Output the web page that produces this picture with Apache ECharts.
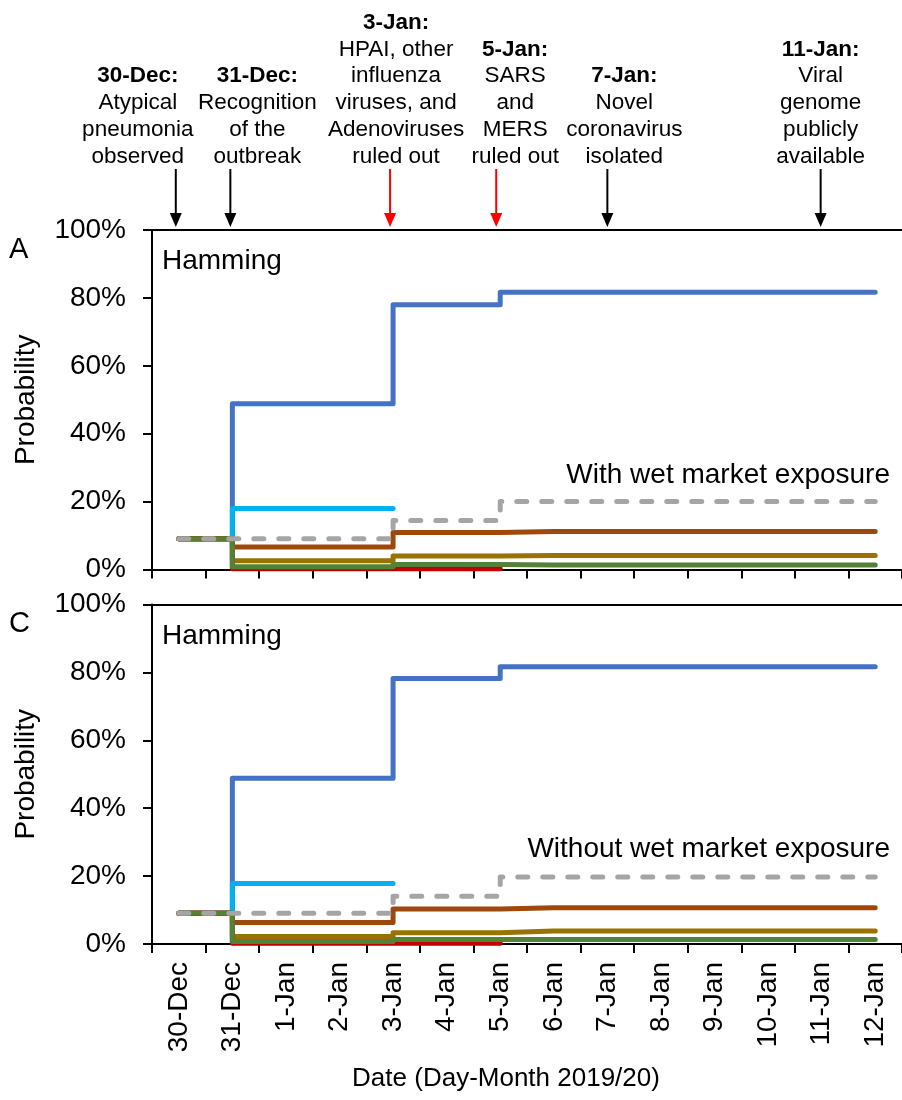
<!DOCTYPE html>
<html>
<head>
<meta charset="utf-8">
<script src="https://cdn.jsdelivr.net/npm/echarts@6.0.0/dist/echarts.min.js"></script>
<style>
html,body{margin:0;padding:0;background:#fff;}
#chart{width:902px;height:1100px;}
</style>
</head>
<body>
<div id="chart"></div>
<script>
// ---------- data ----------
const dates = ['30-Dec','31-Dec','1-Jan','2-Jan','3-Jan','4-Jan','5-Jan','6-Jan','7-Jan','8-Jan','9-Jan','10-Jan','11-Jan','12-Jan'];
const yTicks = [0, 20, 40, 60, 80, 100];

// Panel A (with wet market exposure)
const blueA  = [9.09, 48.8, 48.8, 48.8, 78.0, 78.0, 81.7, 81.7, 81.7, 81.7, 81.7, 81.7, 81.7, 81.7];
const cyanA  = [9.09, 18.0, 18.0, 18.0, 18.0];
const grayA  = [9.09, 9.09, 9.09, 9.09, 14.4, 14.4, 20.0, 20.0, 20.0, 20.0, 20.0, 20.0, 20.0, 20.0];
const brownA = [9.09, 6.6, 6.6, 6.6, 10.9, 10.9, 11.2, 11.2, 11.2, 11.2, 11.2, 11.2, 11.2, 11.2];
const oliveA = [9.09, 2.6, 2.6, 2.6, 4.0, 4.0, 4.1, 4.1, 4.1, 4.1, 4.1, 4.1, 4.1, 4.1];
const greenA = [9.09, 0.8, 0.8, 0.8, 1.5, 1.5, 1.3, 1.3, 1.3, 1.3, 1.3, 1.3, 1.3, 1.3];
const redA   = [9.09, 0.2, 0.2, 0.2, 0.2, 0.2, 0.2];

// Panel C (without wet market exposure)
const blueC  = [9.09, 48.8, 48.8, 48.8, 78.2, 78.2, 81.7, 81.7, 81.7, 81.7, 81.7, 81.7, 81.7, 81.7];
const cyanC  = [9.09, 17.8, 17.8, 17.8, 17.8];
const grayC  = [9.09, 9.09, 9.09, 9.09, 14.1, 14.1, 19.7, 19.7, 19.7, 19.7, 19.7, 19.7, 19.7, 19.7];
const brownC = [9.09, 6.3, 6.3, 6.3, 10.3, 10.3, 10.7, 10.7, 10.7, 10.7, 10.7, 10.7, 10.7, 10.7];
const oliveC = [9.09, 2.2, 2.2, 2.2, 3.3, 3.3, 3.8, 3.8, 3.8, 3.8, 3.8, 3.8, 3.8, 3.8];
const greenC = [9.09, 0.7, 0.7, 0.7, 1.3, 1.3, 1.3, 1.3, 1.3, 1.3, 1.3, 1.3, 1.3, 1.3];
const redC   = [9.09, 0.2, 0.2, 0.2, 0.2, 0.2, 0.2];

// Timeline events
const eventDates  = ['30-Dec', '31-Dec', '3-Jan', '5-Jan', '7-Jan', '11-Jan'];
const eventTitles = ['30-Dec:', '31-Dec:', '3-Jan:', '5-Jan:', '7-Jan:', '11-Jan:'];
const eventLines  = [
  ['Atypical', 'pneumonia', 'observed'],
  ['Recognition', 'of the', 'outbreak'],
  ['HPAI, other', 'influenza', 'viruses, and', 'Adenoviruses', 'ruled out'],
  ['SARS', 'and', 'MERS', 'ruled out'],
  ['Novel', 'coronavirus', 'isolated'],
  ['Viral', 'genome', 'publicly', 'available']
];
const eventColors = ['#000000', '#000000', '#ff0000', '#ff0000', '#000000', '#000000'];
const eventTextShift = [-41, 25, 3, 15, 17, -1];
const eventArrowShift = [-3, -2, -3, -4, 0, -1];

const panelLetters = ['A', 'C'];
const panelMethod = ['Hamming', 'Hamming'];
const panelNotes = ['With wet market exposure', 'Without wet market exposure'];

// ---------- styling ----------
const FONT = 'Liberation Sans, Arial, Helvetica, sans-serif';
const COLORS = {
  blue: '#4472C4', cyan: '#00B0F0', gray: '#A5A5A5',
  brown: '#9E480E', olive: '#997300', green: '#548235', red: '#C00000'
};
const GRID_LEFT = 152, GRID_W = 752, GRID_H = 339.5;
const GRID_TOPS = [230, 604.5];

const chart = echarts.init(document.getElementById('chart'), null, {renderer: 'canvas'});

function xAxes(gi, showLabels) {
  return [
    {
      type: 'category', data: dates, gridIndex: gi, position: 'bottom', boundaryGap: true,
      axisLine: {show: true, lineStyle: {color: '#000', width: 2}},
      axisTick: {show: true, inside: false, length: 9, interval: 0, lineStyle: {color: '#000', width: 2}},
      axisLabel: {show: showLabels, rotate: 90, interval: 0, fontSize: 28, color: '#000', fontFamily: FONT, margin: 18},
      splitLine: {show: false},
      name: showLabels ? 'Date (Day-Month 2019/20)' : '',
      nameLocation: 'middle', nameGap: 122,
      nameTextStyle: {fontSize: 26, color: '#000', fontFamily: FONT, padding: [0, 42, 0, 0]}
    },
    {
      type: 'category', data: dates, gridIndex: gi, position: 'top', boundaryGap: true,
      axisLine: {show: true, lineStyle: {color: '#000', width: 2}},
      axisTick: {show: false}, axisLabel: {show: false}, splitLine: {show: false}
    }
  ];
}
function yAxis(gi) {
  return {
    type: 'value', gridIndex: gi, min: yTicks[0], max: yTicks[yTicks.length - 1], interval: 20,
    axisLine: {show: true, lineStyle: {color: '#000', width: 2}},
    axisTick: {show: true, inside: false, length: 9, lineStyle: {color: '#000', width: 2}},
    axisLabel: {formatter: '{value}%', fontSize: 28, color: '#000', fontFamily: FONT, margin: 26},
    splitLine: {show: false},
    name: 'Probability', nameLocation: 'middle', nameGap: 112,
    nameTextStyle: {fontSize: 28, color: '#000', fontFamily: FONT}
  };
}
function line(name, data, color, xi, yi, dashed) {
  return {
    name: name, type: 'line', step: 'end', data: data,
    xAxisIndex: xi, yAxisIndex: yi, showSymbol: false, symbol: 'none',
    connectNulls: false, clip: false, silent: true,
    lineStyle: {color: color, width: 5, cap: 'round', join: 'round',
      type: dashed ? [10, 15] : 'solid'}
  };
}
function panelSeries(p, xi, yi) {
  return [
    line('Blue', p[0], COLORS.blue, xi, yi),
    line('Cyan', p[1], COLORS.cyan, xi, yi),
    line('Brown', p[3], COLORS.brown, xi, yi),
    line('Olive', p[4], COLORS.olive, xi, yi),
    line('Red', p[6], COLORS.red, xi, yi),
    line('Green', p[5], COLORS.green, xi, yi),
    line('Gray', p[2], COLORS.gray, xi, yi, true)
  ];
}

const option = {
  backgroundColor: '#ffffff',
  animation: false,
  textStyle: {fontFamily: FONT},
  grid: GRID_TOPS.map(t => ({left: GRID_LEFT, top: t, width: GRID_W, height: GRID_H, containLabel: false})),
  xAxis: [].concat(xAxes(0, false), xAxes(1, true)),
  yAxis: [yAxis(0), yAxis(1)],
  series: [].concat(
    panelSeries([blueA, cyanA, grayA, brownA, oliveA, greenA, redA], 0, 0),
    panelSeries([blueC, cyanC, grayC, brownC, oliveC, greenC, redC], 2, 1)
  )
};
chart.setOption(option);

// ---------- annotations (positions derived from the axes) ----------
const g = [];
const LINE_H = 26.8, LAST_Y = 156.5;
eventDates.forEach((d, i) => {
  const xc = chart.convertToPixel({xAxisIndex: 0}, d);
  const lines = [eventTitles[i]].concat(eventLines[i]);
  const n = lines.length;
  lines.forEach((t, k) => {
    g.push({
      type: 'text', x: xc + eventTextShift[i], y: LAST_Y - (n - 1 - k) * LINE_H,
      style: {text: t, x: 0, y: 0, align: 'center', verticalAlign: 'middle',
        font: (k === 0 ? 'bold ' : '') + '22.5px ' + FONT, fill: '#000'}
    });
  });
  const x = xc + eventArrowShift[i];
  const yTop = chart.convertToPixel({yAxisIndex: 0}, 100);
  g.push({type: 'line', shape: {x1: x, y1: 169, x2: x, y2: yTop - 15},
    style: {stroke: eventColors[i], lineWidth: 2}});
  g.push({type: 'polygon', shape: {points: [[x - 6, yTop - 17], [x + 6, yTop - 17], [x, yTop - 3]]},
    style: {fill: eventColors[i]}});
});
GRID_TOPS.forEach((t, i) => {
  const top = chart.convertToPixel({yAxisIndex: i}, 100);
  g.push({type: 'text', x: 9, y: top + 19.5,
    style: {text: panelLetters[i], x: 0, y: 0, align: 'left', verticalAlign: 'middle', font: '29px ' + FONT, fill: '#000'}});
  g.push({type: 'text', x: GRID_LEFT + 10, y: top + 31.5,
    style: {text: panelMethod[i], x: 0, y: 0, align: 'left', verticalAlign: 'middle', font: '28px ' + FONT, fill: '#000'}});
  g.push({type: 'text', x: 890, y: top + 245,
    style: {text: panelNotes[i], x: 0, y: 0, align: 'right', verticalAlign: 'middle', font: '28px ' + FONT, fill: '#000'}});
});
chart.setOption({graphic: {elements: g}});
</script>
</body>
</html>
